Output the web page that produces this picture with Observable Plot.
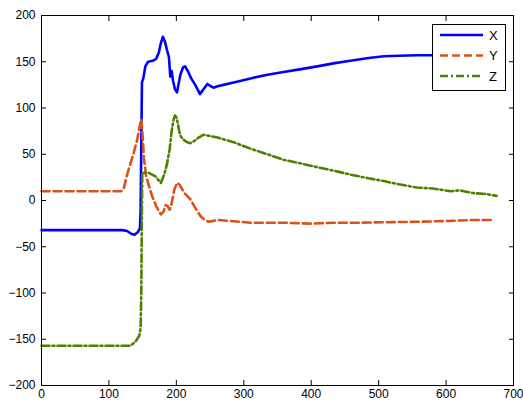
<!DOCTYPE html>
<html><head><meta charset="utf-8">
<script src="https://cdn.jsdelivr.net/npm/d3@7"></script>
<script src="https://cdn.jsdelivr.net/npm/@observablehq/plot@0.6"></script>
<style>
body{margin:0;background:#fff;}
#wrap{position:relative;width:523px;height:403px;font-family:"Liberation Sans",Arial,sans-serif;}
#legend{position:absolute;left:432px;top:24px;}
</style></head>
<body><div id="wrap"></div>
<script>
const seriesNames = ["X","Y","Z"];
const colors = ["#0000FF","#D95319","#4E8000"];
const xTicks = [0,100,200,300,400,500,600,700];
const yTicks = [-200,-150,-100,-50,0,50,100,150,200];

const xT = [0,120,127,133,138,143,146,147,148,149,151,154,158,165,170,174,177,180,183,186,189,191,193,195,198,201,203,206,210,213,217,222,228,235,240,246,250,255,261,270,285,310,335,359,385,409,435,458,485,508,530,557,600,640,676];
const xV = [-32,-32,-33,-36,-37,-34,-30,-10,60,128,132,145,150,151,153,160,170,177,172,163,155,134,140,130,120,117,125,136,144,145,140,132,125,115,120,126,124,122,123.5,125,127.5,132,136,139,142,145,148.5,151,154,156,156.5,157,157,157.5,158];

const yT = [0,118,122,127,132,137,142,145,148,150,152,155,160,164,170,177,181,184,187,190,193,197,201,205,211,216,221,228,236,242,248,255,261,285,310,359,400,433,470,508,560,607,640,672];
const yV = [10,10,13,28,40,52,66,78,88,70,45,27,14,5,-6,-15,-12,-5,-6,-10,-3,12,19,17,9,5,1,-8,-17,-21,-23,-22,-21,-22.5,-24,-24,-25,-24,-24,-23.5,-23,-22,-21,-21];

const zT = [0,125,132,137,141,145,147,148,149,149.5,153,159,164,169,177,182,186,190,193,196,198,200,202,204,206,210,216,221,226,233,240,248,261,285,310,335,359,385,409,435,458,485,508,530,557,580,607,620,640,660,675];
const zV = [-157,-157,-157,-154,-151,-146,-138,-100,0,30,30,30,28,26,19,28,39,55,75,88,92,90,84,76,70,66,63,62,64,68,71,70,68,63,56,50,44,40,36,32,28,24,21,17.5,14,13,10,11,8,7,5];

const dashes = [null,"8,4","8,3,2,3"];
const sets = [[xT,xV],[yT,yV],[zT,zV]];
const data = sets.map(([t,v]) => t.map((x,i)=>({x, y:v[i]})));

const font = "Liberation Sans, Arial, sans-serif";
const lines = data.map((d,i)=>Plot.line(d,{x:"x",y:"y",stroke:colors[i],strokeWidth:2.6,strokeDasharray:dashes[i]}));

const chart = Plot.plot({
  width:523, height:403,
  marginLeft:41, marginRight:10, marginTop:15, marginBottom:18,
  style:{fontFamily:font, fontSize:"12px", background:"white", color:"black"},
  x:{domain:[0,700]},
  y:{domain:[-200,200]},
  marks:[
    ...lines,
    Plot.frame({stroke:"black", strokeWidth:1}),
    Plot.axisX({ticks:xTicks, tickSize:0, tickPadding:4, label:null, fontSize:12}),
    Plot.axisY({ticks:yTicks, tickSize:0, tickPadding:6, label:null, fontSize:12}),
    Plot.axisX({ticks:xTicks, anchor:"bottom", tickSize:5, dy:-5, tickFormat:()=>"", label:null}),
    Plot.axisX({ticks:xTicks, anchor:"top", tickSize:5, dy:5, tickFormat:()=>"", label:null}),
    Plot.axisY({ticks:yTicks, anchor:"left", tickSize:5, dx:5, tickFormat:()=>"", label:null}),
    Plot.axisY({ticks:yTicks, anchor:"right", tickSize:5, dx:-5, tickFormat:()=>"", label:null})
  ]
});
const wrap = document.getElementById("wrap");
wrap.appendChild(chart);

// legend
const ns = "http://www.w3.org/2000/svg";
const lg = document.createElementNS(ns,"svg");
lg.setAttribute("id","legend");
lg.setAttribute("width",74); lg.setAttribute("height",67);
let html = `<rect x="0.5" y="0.5" width="73" height="66" fill="white" stroke="black"/>`;
seriesNames.forEach((n,i)=>{
  const yy = 11 + i*20.5;
  html += `<line x1="8" x2="51" y1="${yy}" y2="${yy}" stroke="${colors[i]}" stroke-width="2.6" ${dashes[i]?`stroke-dasharray="${dashes[i]}"`:""}/>`;
  html += `<text x="57" y="${yy+4.5}" font-family="${font}" font-size="13">${n}</text>`;
});
lg.innerHTML = html;
wrap.appendChild(lg);
</script></body></html>
